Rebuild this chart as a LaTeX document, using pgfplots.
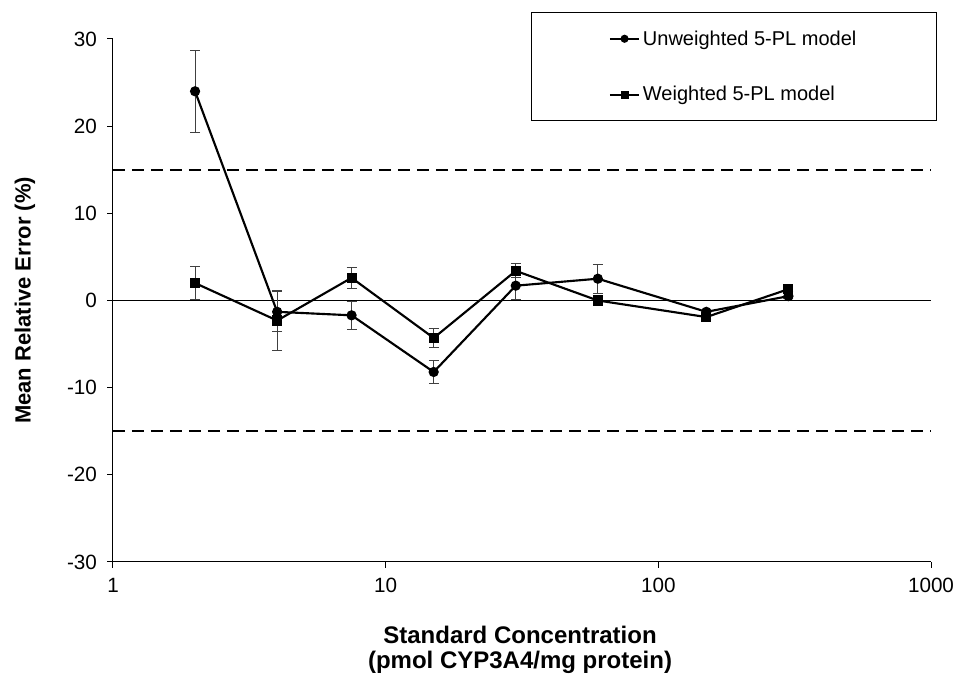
\documentclass[border=0pt]{standalone}
\usepackage{fontspec}
\setmainfont{Liberation Sans}
\usepackage{pgfplots}
\usepackage{pgfplotstable}
\pgfplotsset{compat=1.18}
\pgfplotstableread{
x y e
2 24.0 4.7
4 -1.3 2.3
7.5 -1.7 1.6
15 -8.2 1.35
30 1.7 1.6
60 2.5 1.65
150 -1.3 0.3
300 0.5 0.3
}\unweighted
\pgfplotstableread{
x y e
2 2.0 1.9
4 -2.3 3.4
7.5 2.6 1.2
15 -4.3 1.1
30 3.4 0.8
60 0.0 0.6
150 -1.9 0.3
300 1.3 0.3
}\weighted
\begin{document}
\begin{tikzpicture}
\begin{axis}[
  name=ax,
  scale only axis,
  width=613.5pt, height=392.25pt,
  xmode=log, xmin=1, xmax=1000, ymin=-30, ymax=30,
  xtick={1,10,100,1000}, xticklabels={1,10,100,1000},
  xminorticks=false,
  ytick={-30,-20,...,30},
  axis lines=left,
  axis line style={-, line width=0.75pt},
  tick style={black, line width=0.75pt},
  tick align=outside,
  major tick length=4.5pt,
  /pgf/number format/assume math mode=true,
  tick label style={font=\fontsize{15.5}{18}\selectfont},
  xticklabel style={yshift=-4pt},
  yticklabel style={xshift=-4pt},
  xlabel={Standard Concentration\\(pmol CYP3A4/mg protein)},
  xlabel style={font=\bfseries\fontsize{18}{18.5}\selectfont, align=center, at={(axis description cs:0.4976,-0.168)}, anchor=center},
  ylabel={Mean Relative Error (\%)},
  ylabel style={font=\bfseries\fontsize{16.5}{20}\selectfont, at={(axis description cs:-0.1076,0.5)}, anchor=center},
  legend style={at={(rel axis cs:0.511,1.0516)}, anchor=north west,
    draw=black, line width=0.75pt, inner xsep=58pt, inner ysep=11.5pt,
    row sep=25.5pt, font=\fontsize{15}{18}\selectfont},
  legend cell align=left,
  legend image code/.code={\draw[mark repeat=2,mark phase=2,#1,mark size=2.2pt] plot coordinates {(0pt,0pt) (11pt,0pt) (22pt,0pt)};},
]
\addplot[black, line width=0.75pt, forget plot] coordinates {(1,0) (1000,0)};
\addplot[black, line width=1.5pt, dash pattern=on 9pt off 5.25pt, forget plot] coordinates {(1,15) (1000,15)};
\addplot[black, line width=1.5pt, dash pattern=on 9pt off 5.25pt, forget plot] coordinates {(1,-15) (1000,-15)};
\addplot[black, line width=1.6pt, mark=*, mark size=3pt,
  error bars/.cd, y dir=both, y explicit,
  error bar style={black!75, line width=0.7pt},
  error mark options={rotate=90, mark size=3.75pt, line width=0.7pt, black!75}]
  table[x=x, y=y, y error=e] {\unweighted};
\addlegendentry{Unweighted 5-PL model}
\addplot[black, line width=1.6pt, mark=square*, mark size=3pt,
  error bars/.cd, y dir=both, y explicit,
  error bar style={black!75, line width=0.7pt},
  error mark options={rotate=90, mark size=3.75pt, line width=0.7pt, black!75}]
  table[x=x, y=y, y error=e] {\weighted};
\addlegendentry{Weighted 5-PL model}
\end{axis}
\pgfresetboundingbox
\path ([xshift=-84.75pt,yshift=-84.75pt]ax.south west) rectangle ([xshift=18pt,yshift=29.25pt]ax.north east);
\end{tikzpicture}
\end{document}
